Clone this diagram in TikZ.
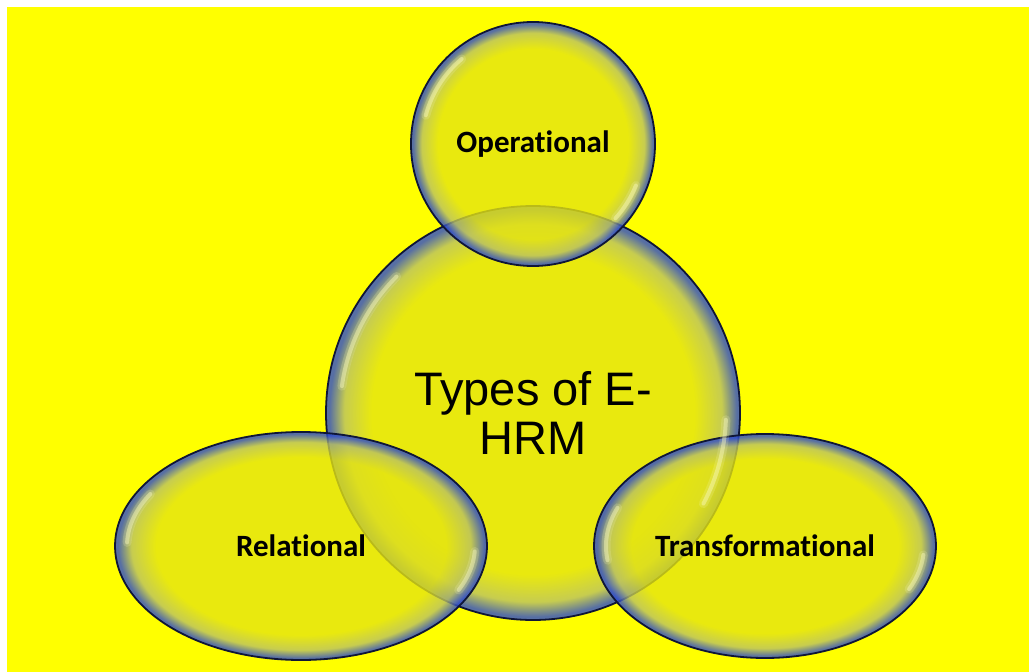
\documentclass[tikz,border=0pt]{standalone}
\usepackage{fontspec}
\usepackage{tikz}
\usetikzlibrary{positioning, shapes.geometric}

\newfontfamily\labelfont[Ligatures=NoCommon]{Carlito}
\newfontfamily\titlefont{Liberation Sans}

\definecolor{bgyellow}{RGB}{255,255,0}
\definecolor{bubcore}{RGB}{228,228,18}
\definecolor{bubmid}{RGB}{185,192,100}
\definecolor{bubrim}{RGB}{45,75,205}
\definecolor{bubedge}{RGB}{15,22,55}
\definecolor{glint}{RGB}{250,250,190}

% glassy fill: yellow core, blue rim
\pgfdeclareradialshading{bubble}{\pgfpoint{0bp}{0bp}}{%
  color(0bp)=(bubcore); color(19.5bp)=(bubcore); color(22.8bp)=(bubmid);
  color(24.6bp)=(bubrim); color(25bp)=(bubrim); color(50bp)=(bubrim)}

\tikzset{
  bubble/.style={draw=bubedge, line width=1.8pt, shading=bubble,
    fill opacity=0.8, text opacity=1, inner sep=0pt},
  gloss/.style={draw=glint, line width=4pt, line cap=round, draw opacity=0.45},
  softgloss/.style={draw=glint, line width=9pt, line cap=round, draw opacity=0.18}
}

\begin{document}
\begin{tikzpicture}[x=1pt, y=1pt, node distance=269pt, on grid]
        % page and backdrop
        \fill[white] (0,0) rectangle (1029,-672);
        \fill[bgyellow] (7,-7) rectangle (1029,-672);
        \useasboundingbox (0,0) rectangle (1029,-672);

        \node[bubble, circle, minimum size=414pt, align=center,
              font=\titlefont\fontsize{47}{49}\selectfont] (main) at (533,-413) {Types of E-\\HRM};
        \node[bubble, circle, minimum size=244pt,
              font=\labelfont\bfseries\fontsize{31}{32}\selectfont] (op) [above=of main] {Operational};
        \node[bubble, ellipse, minimum width=372pt, minimum height=228pt,
              font=\labelfont\bfseries\fontsize{31}{32}\selectfont] (rel) [below left=133pt and 232pt of main] {Relational};
        \node[bubble, ellipse, minimum width=342pt, minimum height=224pt,
              font=\labelfont\bfseries\fontsize{31}{32}\selectfont] (trans) [below right=133pt and 232pt of main] {Transformational};

        % highlights
        \foreach \s in {softgloss, gloss} {
          \draw[\s] (main.center) ++(135:193) arc[start angle=135, end angle=172, radius=193];
          \draw[\s] (main.center) ++(-2:193) arc[start angle=-2, end angle=-28, radius=193];
          \draw[\s] (op.center) ++(130:111) arc[start angle=130, end angle=165, radius=111];
          \draw[\s] (op.center) ++(-22:111) arc[start angle=-22, end angle=-42, radius=111];
          \draw[\s] (rel.center) ++({174*cos(150)},{104*sin(150)}) arc[start angle=150, end angle=178, x radius=174, y radius=104];
          \draw[\s] (rel.center) ++({174*cos(-3)},{104*sin(-3)}) arc[start angle=-3, end angle=-25, x radius=174, y radius=104];
          \draw[\s] (trans.center) ++({159*cos(158)},{102*sin(158)}) arc[start angle=158, end angle=188, x radius=159, y radius=102];
          \draw[\s] (trans.center) ++({159*cos(-5)},{102*sin(-5)}) arc[start angle=-5, end angle=-25, x radius=159, y radius=102];
        }
\end{tikzpicture}
\end{document}
